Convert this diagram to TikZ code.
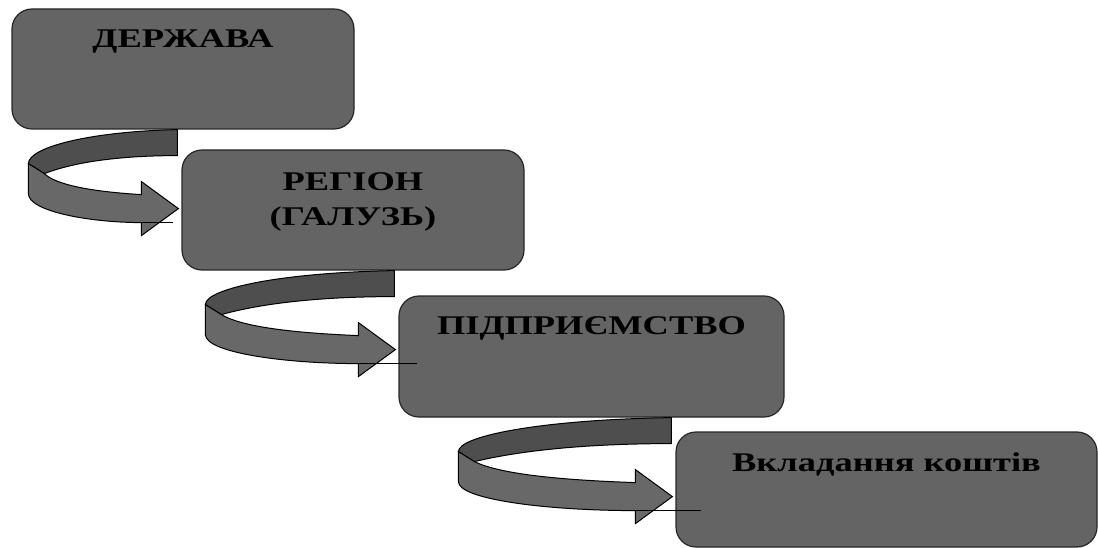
\documentclass[tikz,border=0pt]{standalone}
\usepackage{fontspec}
\newfontfamily\stagefont[FakeStretch=1.35]{Liberation Serif}
\usetikzlibrary{positioning,calc}
\definecolor{boxgray}{RGB}{100,100,100}
\definecolor{bandgray}{RGB}{78,78,78}
\definecolor{frontgray}{RGB}{104,104,104}

\begin{document}
\begin{tikzpicture}[x=1pt,y=-1pt,
  stage/.style={draw=black!85,line width=1.2pt,fill=boxgray,rounded corners=20pt,inner sep=0pt},
  stagetext/.style={inner sep=0pt,font=\stagefont\bfseries\fontsize{27}{35}\selectfont,align=center},
  turn/.style={draw=black,line width=1pt,line join=miter}]
\useasboundingbox (0,0) rectangle (1098,548);
% the four steps
\node[stage,minimum width=342pt,minimum height=120pt] (derzhava) at (183,69) {};
\node[stage,minimum width=342pt,minimum height=120pt] (region) at (353,210) {};
\node[stage,minimum width=385pt,minimum height=121pt] (pidpr) at (591.5,356.5) {};
\node[stage,minimum width=421pt,minimum height=115pt] (vkladannya) at (886.5,489.5) {};
\node[stagetext,below=21pt of derzhava.north] (tderzhava) {ДЕРЖАВА};
\node[stagetext,below=23pt of region.north] (tregion) {РЕГІОН\\(ГАЛУЗЬ)};
\node[stagetext,below=21pt of pidpr.north] (tpidpr) {ПІДПРИЄМСТВО};
\node[stagetext,below=21pt of vkladannya.north] (tvkladannya) {Вкладання коштів};
% #1 upper box, #2 lower box, #3 reach to the left, #4 end of the thin line
\def\turnarrow#1#2#3#4{%
\coordinate (s) at ($(#2.west |- #1.south)+(-4,0)$);
\draw[turn,fill=bandgray] (s) .. controls ($(s)+(-0.6*#3,2)$) and ($(s)+(-#3,18)$) .. ($(s)+(-#3,34)$)
  -- ($(s)+(-#3+16,44)$) .. controls ($(s)+(-0.65*#3,30)$) and ($(s)+(-0.3*#3,26)$) .. ($(s)+(0,26)$) -- cycle;
\draw[turn,fill=frontgray] ($(s)+(-#3+16,44)$) -- ($(s)+(-#3,34)$) -- ($(s)+(-#3,64)$)
  .. controls ($(s)+(-#3,82)$) and ($(s)+(-0.58*#3,93)$) .. ($(s)+(-36,93)$)
  -- ($(s)+(-36,106)$) -- ($(s)+(1,79)$) -- ($(s)+(-36,52)$) -- ($(s)+(-36,65)$)
  .. controls ($(s)+(-0.58*#3,62)$) and ($(s)+(-0.82*#3,55)$) .. ($(s)+(-#3+16,44)$) -- cycle;
\draw[thin] ($(s)+(-36,93)$) -- ($(s)+(#4,93)$);
}
\turnarrow{derzhava}{region}{149}{-4}
\turnarrow{region}{pidpr}{189}{23}
\turnarrow{pidpr}{vkladannya}{213}{30}
\end{tikzpicture}
\end{document}
